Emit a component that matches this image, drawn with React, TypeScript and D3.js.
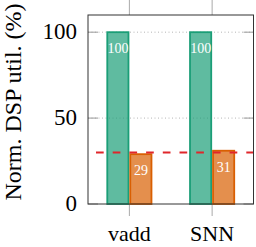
import {useEffect, useRef} from "react";
import * as d3 from "d3";

const categories = ["vadd", "SNN"];
const baseline = [100, 100];
const optimized = [29, 31];
const threshold = 30;
const yTicks = [0, 50, 100];

const W = 256;
const H = 247;

const App = () => {
  const ref = useRef<SVGSVGElement>(null);

  useEffect(() => {
    const svg = d3.select(ref.current);
    svg.selectAll("*").remove();

    const margin = {top: 15, right: 2.5, bottom: 43, left: 88};
    const x0 = margin.left, x1 = W - margin.right;
    const y0 = H - margin.bottom, y1 = margin.top;

    const x = d3.scalePoint<string>().domain(categories).range([x0, x1]).padding(0.5);
    const y = d3.scaleLinear().domain([0, 110]).range([y0, y1]);
    const barW = 23;

    // grille pointillée
    svg.append("g").selectAll("line")
      .data(yTicks.filter(t => t > 0))
      .enter().append("line")
      .attr("x1", x0).attr("x2", x1)
      .attr("y1", d => y(d)).attr("y2", d => y(d))
      .attr("stroke", "#b5b5b5").attr("stroke-width", 1)
      .attr("stroke-dasharray", "1,2.5");

    // ticks y vers l'intérieur
    const yt = svg.append("g");
    yTicks.forEach(t => {
      yt.append("line").attr("x1", x0).attr("x2", x0 + 10).attr("y1", y(t)).attr("y2", y(t))
        .attr("stroke", "#9a9a9a");
      yt.append("line").attr("x1", x1 - 10).attr("x2", x1).attr("y1", y(t)).attr("y2", y(t))
        .attr("stroke", "#9a9a9a");
    });

    // ticks x vers l'extérieur (haut et bas)
    categories.forEach(c => {
      svg.append("line").attr("x1", x(c)!).attr("x2", x(c)!).attr("y1", y0).attr("y2", y0 + 12)
        .attr("stroke", "#aaaaaa");
      svg.append("line").attr("x1", x(c)!).attr("x2", x(c)!).attr("y1", 0).attr("y2", y1)
        .attr("stroke", "#aaaaaa");
    });

    // barres
    const series = [
      {values: baseline, fill: "#1b9e77", off: -barW},
      {values: optimized, fill: "#d95f02", off: 0},
    ];
    series.forEach(s => {
      const g = svg.append("g");
      g.selectAll("rect")
        .data(s.values)
        .enter().append("rect")
        .attr("x", (d, i) => x(categories[i])! + s.off + 0.9)
        .attr("y", d => y(d))
        .attr("width", barW - 1.8)
        .attr("height", d => y0 - y(d))
        .attr("fill", s.fill).attr("fill-opacity", 0.7)
        .attr("stroke", s.fill).attr("stroke-width", 1.8);
      g.selectAll("text")
        .data(s.values)
        .enter().append("text")
        .attr("x", (d, i) => x(categories[i])! + s.off + barW / 2)
        .attr("y", d => y(d) + 21)
        .attr("text-anchor", "middle")
        .attr("class", "serif").attr("font-size", 14)
        .attr("fill", "white")
        .text(d => d);
    });

    // ligne seuil
    svg.append("line")
      .attr("x1", x0).attr("x2", x1)
      .attr("y1", y(threshold)).attr("y2", y(threshold))
      .attr("stroke", "#e0262b").attr("stroke-width", 2)
      .attr("stroke-dasharray", "7.7,9").attr("stroke-dashoffset", 8.7);

    // cadre
    svg.append("rect")
      .attr("x", x0).attr("y", y1).attr("width", x1 - x0).attr("height", y0 - y1)
      .attr("fill", "none").attr("stroke", "#333").attr("stroke-width", 1);

    // labels y
    svg.append("g").selectAll("text")
      .data(yTicks)
      .enter().append("text")
      .attr("x", 77).attr("y", d => y(d) + 7)
      .attr("text-anchor", "end")
      .attr("class", "serif").attr("font-size", 23)
      .text(d => d);

    // labels x
    svg.append("g").selectAll("text")
      .data(categories)
      .enter().append("text")
      .attr("x", d => x(d)!).attr("y", 241)
      .attr("text-anchor", "middle")
      .attr("class", "serif").attr("font-size", 22)
      .text(d => d);

    svg.append("text")
      .attr("transform", `translate(21,${102}) rotate(-90)`)
      .attr("text-anchor", "middle")
      .attr("class", "serif").attr("font-size", 24)
      .text("Norm. DSP util. (%)");
  }, []);

  return (
    <>
      <style>{`.serif { font-family: "Liberation Serif", "DejaVu Serif", serif; }`}</style>
      <svg ref={ref} width={W} height={H} style={{position: "absolute", left: 0, top: 0, background: "white"}}></svg>
    </>
  );
};

export default App;
